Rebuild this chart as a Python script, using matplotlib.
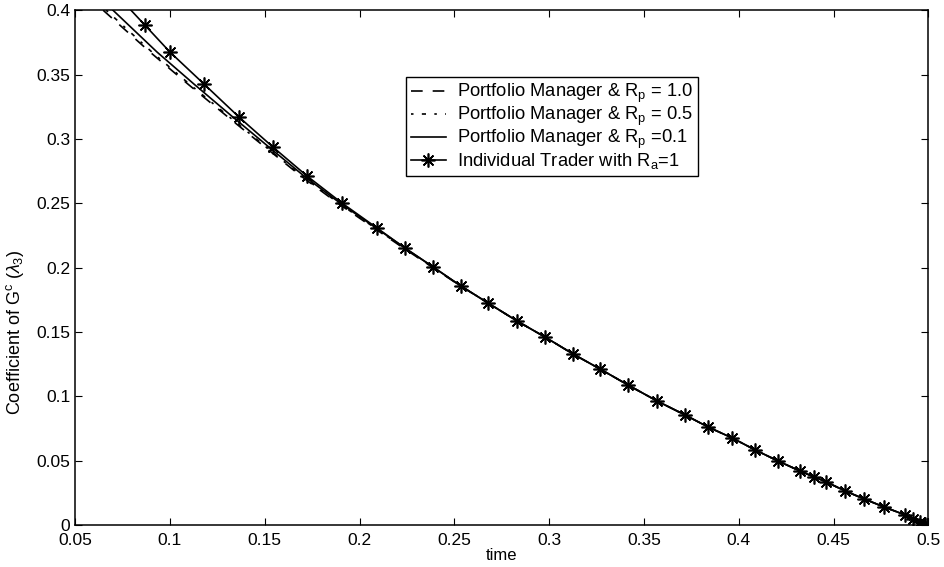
import matplotlib.pyplot as plt
import numpy as np

plt.rcParams['font.family'] = ['Liberation Sans', 'DejaVu Sans']
plt.rcParams['mathtext.fontset'] = 'custom'
plt.rcParams['mathtext.rm'] = 'Liberation Sans'
plt.rcParams['mathtext.it'] = 'Liberation Sans:italic'

# Individual trader (R_a = 1), first point is where the curve leaves the top of the box
trader_t = [0.0795, 0.0869, 0.1001, 0.1181, 0.1365, 0.1544, 0.1724, 0.1908, 0.2093,
            0.2241, 0.2389, 0.2536, 0.2679, 0.2832, 0.2979, 0.3127, 0.3269, 0.3417,
            0.3570, 0.3718, 0.3839, 0.3966, 0.4087, 0.4208, 0.4324, 0.4398, 0.4462,
            0.4562, 0.4662, 0.4767, 0.4878, 0.4920, 0.4957, 0.4980, 0.4992, 0.5000]
trader_c = [0.4000, 0.3883, 0.3674, 0.3425, 0.3169, 0.2936, 0.2711, 0.2501, 0.2307,
            0.2151, 0.2004, 0.1856, 0.1724, 0.1584, 0.1460, 0.1328, 0.1212, 0.1087,
            0.0963, 0.0854, 0.0761, 0.0676, 0.0583, 0.0497, 0.0419, 0.0373, 0.0334,
            0.0264, 0.0202, 0.0140, 0.0078, 0.0047, 0.0023, 0.0011, 0.0004, 0.0000]

# portfolio manager curves, merge with the trader curve after t ~ 0.25
tail_t = trader_t[12:]
tail_c = trader_c[12:]

pm01_t = [0.0700, 0.0933, 0.1128, 0.1333, 0.1523, 0.1708, 0.1898, 0.2088, 0.2241, 0.2389, 0.2536] + tail_t
pm01_c = [0.4000, 0.3674, 0.3425, 0.3169, 0.2936, 0.2711, 0.2501, 0.2307, 0.2151, 0.2004, 0.1856] + tail_c

pm05_t = [0.0664, 0.0906, 0.1104, 0.1315, 0.1508, 0.1697, 0.1890, 0.2083, 0.2236, 0.2386, 0.2536] + tail_t
pm05_c = [0.4000, 0.3674, 0.3425, 0.3169, 0.2936, 0.2711, 0.2501, 0.2307, 0.2151, 0.2004, 0.1856] + tail_c

pm10_t = [0.0648, 0.0896, 0.1096, 0.1307, 0.1502, 0.1692, 0.1885, 0.2077, 0.2233, 0.2383, 0.2534] + tail_t
pm10_c = [0.4000, 0.3674, 0.3425, 0.3169, 0.2936, 0.2711, 0.2501, 0.2307, 0.2151, 0.2004, 0.1856] + tail_c

fig = plt.figure(figsize=(9.44, 5.67), dpi=100)
ax = fig.add_axes([0.0795, 0.074, 0.904, 0.908])

ax.plot(pm10_t, pm10_c, 'k', lw=1.2, dashes=(7, 6), label=r'Portfolio Manager & R$_\mathregular{p}$ = 1.0')
ax.plot(pm05_t, pm05_c, 'k', lw=1.2, dashes=(1.5, 5, 2.5, 5), label=r'Portfolio Manager & R$_\mathregular{p}$ = 0.5')
ax.plot(pm01_t, pm01_c, 'k-', lw=1.2, label=r'Portfolio Manager & R$_\mathregular{p}$ =0.1')
ax.plot(trader_t, trader_c, 'k-', lw=1.2, marker=(8, 2, 0), ms=10, mew=1.2, markevery=slice(1, None),
        label=r'Individual Trader with R$_\mathregular{a}$=1')

ax.set_xlim(0.05, 0.5)
ax.set_ylim(0, 0.4)
ax.set_xticks(np.arange(0.05, 0.501, 0.05))
ax.set_yticks(np.arange(0, 0.401, 0.05))
ax.set_xticklabels(['0.05', '0.1', '0.15', '0.2', '0.25', '0.3', '0.35', '0.4', '0.45', '0.5'])
ax.set_yticklabels(['0', '0.05', '0.1', '0.15', '0.2', '0.25', '0.3', '0.35', '0.4'])
ax.tick_params(direction='in', top=True, right=True, labelsize=12.5, length=5)
ax.tick_params(axis='x', pad=6)
for s in ax.spines.values():
    s.set_linewidth(1.1)

ax.set_xlabel('time', fontsize=12)
ax.xaxis.set_label_coords(0.5, -0.045)
ax.set_ylabel(r'Coefficient of G$^\mathregular{c}$ ($\lambda_3$)', fontsize=13)
ax.yaxis.set_label_coords(-0.058, 0.375)

ax.legend(loc='upper left', bbox_to_anchor=(0.388, 0.870), borderaxespad=0, fancybox=False,
          edgecolor='black', framealpha=1, fontsize=13.2, handlelength=1.9,
          labelspacing=0.0, borderpad=0.25, handletextpad=0.6)

plt.savefig('out.png', dpi=100)
